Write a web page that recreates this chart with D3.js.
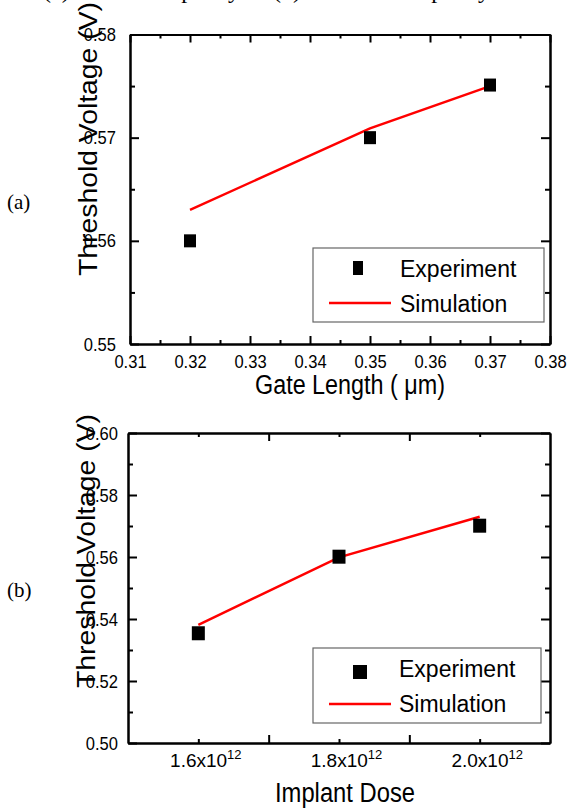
<!DOCTYPE html>
<html>
<head>
<meta charset="utf-8">
<script src="https://cdn.jsdelivr.net/npm/d3@7"></script>
<style>
  body { margin: 0; background: #fff; }
  svg { display: block; font-family: "Liberation Sans", Arial, sans-serif; }
</style>
</head>
<body>
<svg id="chart" width="567" height="808"></svg>
<script>
// Panel (a): threshold voltage vs gate length
const gateLength = [0.32, 0.35, 0.37];
const expGate = [0.560, 0.570, 0.5751];
const simGate = [0.563, 0.5709, 0.575];
const gateTicks = [0.31, 0.32, 0.33, 0.34, 0.35, 0.36, 0.37, 0.38];
const gateMinor = [0.315, 0.325, 0.335, 0.345, 0.355, 0.365, 0.375];
const vtTicksA = [0.55, 0.56, 0.57, 0.58];
const vtMinorA = [0.555, 0.565, 0.575];

// Panel (b): threshold voltage vs implant dose
const implantDose = [1.6e12, 1.8e12, 2.0e12];
const expDose = [0.5354, 0.5601, 0.5701];
const simDose = [0.5381, 0.5599, 0.5730];
const doseLabelTicks = [1.6e12, 1.8e12, 2.0e12];
const doseLongTicks = [1.7e12, 1.9e12];
const vtTicksB = [0.50, 0.52, 0.54, 0.56, 0.58, 0.60];
const vtMinorB = [0.51, 0.53, 0.55, 0.57, 0.59];

const legendNames = ['Experiment', 'Simulation'];

const svg = d3.select('#chart');

// cut-off caption line from the previous part of the page
const caption = svg.append('g')
  .attr('font-family', '"Liberation Serif", "Times New Roman", serif')
  .attr('font-size', 24);
caption.append('text').attr('x', 43).attr('y', -2).text('(a)');
caption.append('text').attr('x', 240).attr('y', -2).attr('text-anchor', 'end').text('capacity');
caption.append('text').attr('x', 273).attr('y', -2).text('(b)');
caption.append('text').attr('x', 490).attr('y', -2).attr('text-anchor', 'end').text('capacity');

// tick labels in the original are a little condensed
function squeeze (sel, k) {
  sel.each(function () {
    const w = this.getComputedTextLength();
    if (w > 0) {
      d3.select(this).attr('textLength', w * k).attr('lengthAdjust', 'spacingAndGlyphs');
    }
  });
}

function drawPanel (cfg) {
  const g = svg.append('g');
  const x = d3.scaleLinear().domain(cfg.xDomain).range([cfg.left, cfg.right]);
  const y = d3.scaleLinear().domain(cfg.yDomain).range([cfg.bottom, cfg.top]);

  const styleAxis = sel => {
    sel.attr('font-size', 19).attr('font-family', '"Liberation Sans", Arial, sans-serif');
    sel.selectAll('path, line').attr('stroke', '#000').attr('stroke-width', 2);
    sel.selectAll('text').attr('fill', '#000');
  };

  // bottom axis, labelled ticks
  const bottom = g.append('g').attr('transform', `translate(0,${cfg.bottom})`)
    .call(d3.axisBottom(x).tickValues(cfg.xLabelTicks).tickSize(-cfg.xLabelTickSize)
      .tickSizeOuter(0).tickPadding(11).tickFormat(cfg.xFormat || d3.format('.2f')))
    .call(styleAxis);
  g.append('g').attr('transform', `translate(0,${cfg.bottom})`)
    .call(d3.axisBottom(x).tickValues(cfg.xOtherTicks).tickSize(-cfg.xOtherTickSize)
      .tickSizeOuter(0).tickFormat(''))
    .call(styleAxis);

  // top axis, ticks only
  g.append('g').attr('transform', `translate(0,${cfg.top})`)
    .call(d3.axisTop(x).tickValues(cfg.xLabelTicks).tickSize(-cfg.xLabelTickSize)
      .tickSizeOuter(0).tickFormat(''))
    .call(styleAxis);
  g.append('g').attr('transform', `translate(0,${cfg.top})`)
    .call(d3.axisTop(x).tickValues(cfg.xOtherTicks).tickSize(-cfg.xOtherTickSize)
      .tickSizeOuter(0).tickFormat(''))
    .call(styleAxis);

  // left axis
  const left = g.append('g').attr('transform', `translate(${cfg.left},0)`)
    .call(d3.axisLeft(y).tickValues(cfg.yTicks).tickSize(-9).tickSizeOuter(0)
      .tickPadding(cfg.yPad).tickFormat(d3.format('.2f')))
    .call(styleAxis);
  g.append('g').attr('transform', `translate(${cfg.left},0)`)
    .call(d3.axisLeft(y).tickValues(cfg.yMinor).tickSize(-5).tickSizeOuter(0).tickFormat(''))
    .call(styleAxis);

  // right axis
  g.append('g').attr('transform', `translate(${cfg.right},0)`)
    .call(d3.axisRight(y).tickValues(cfg.yTicks).tickSize(-9).tickSizeOuter(0).tickFormat(''))
    .call(styleAxis);
  g.append('g').attr('transform', `translate(${cfg.right},0)`)
    .call(d3.axisRight(y).tickValues(cfg.yMinor).tickSize(-5).tickSizeOuter(0).tickFormat(''))
    .call(styleAxis);

  squeeze(left.selectAll('.tick text'), 0.87);

  if (cfg.sciLabels) {
    bottom.selectAll('.tick text')
      .text(null)
      .attr('dx', 7)
      .call(t => t.append('tspan').text(d => (d / 1e12).toFixed(1) + 'x10'))
      .call(t => t.append('tspan').attr('font-size', 13).attr('dy', -8).text('12'));
  } else {
    squeeze(bottom.selectAll('.tick text'), 0.87);
  }

  // simulation line
  const line = d3.line().x(d => x(d[0])).y(d => y(d[1]));
  g.append('path')
    .datum(cfg.xs.map((v, i) => [v, cfg.sim[i]]))
    .attr('d', line)
    .attr('fill', 'none')
    .attr('stroke', '#ff0000')
    .attr('stroke-width', 2.5);

  // experiment squares
  g.selectAll('rect.exp')
    .data(cfg.xs.map((v, i) => [v, cfg.exp[i]]))
    .enter().append('rect')
    .attr('class', 'exp')
    .attr('x', d => x(d[0]) - cfg.mw / 2)
    .attr('y', d => y(d[1]) - cfg.mh / 2)
    .attr('width', cfg.mw)
    .attr('height', cfg.mh)
    .attr('fill', '#000');

  // axis titles
  g.append('text')
    .attr('x', cfg.xTitleX).attr('y', cfg.xTitleY)
    .attr('text-anchor', 'middle')
    .attr('font-size', 27)
    .attr('textLength', cfg.xTitleLen)
    .attr('lengthAdjust', 'spacingAndGlyphs')
    .text(cfg.xTitle);

  g.append('text')
    .attr('transform', `translate(${cfg.yTitleX},${cfg.yTitleY}) rotate(-90)`)
    .attr('text-anchor', 'middle')
    .attr('font-size', 26)
    .attr('textLength', 274)
    .attr('lengthAdjust', 'spacingAndGlyphs')
    .text('Threshold Voltage (V)');

  // legend
  const L = cfg.legend;
  const lg = g.append('g');
  lg.append('rect')
    .attr('x', L.x0).attr('y', L.y0)
    .attr('width', L.x1 - L.x0).attr('height', L.y1 - L.y0)
    .attr('fill', '#fff').attr('stroke', '#666').attr('stroke-width', 1.2);
  lg.append('rect')
    .attr('x', L.mx - L.mw / 2).attr('y', L.my - L.mh / 2)
    .attr('width', L.mw).attr('height', L.mh).attr('fill', '#000');
  lg.append('line')
    .attr('x1', 329).attr('x2', 391).attr('y1', L.ly).attr('y2', L.ly)
    .attr('stroke', '#ff0000').attr('stroke-width', 2.5);
  lg.selectAll('text.leg')
    .data(legendNames)
    .enter().append('text')
    .attr('class', 'leg')
    .attr('x', L.tx)
    .attr('y', (d, i) => L.ty[i])
    .attr('font-size', 23)
    .text(d => d);

  // panel tag
  g.append('text')
    .attr('x', 7).attr('y', cfg.tagY)
    .attr('font-family', '"Liberation Serif", "Times New Roman", serif')
    .attr('font-size', 21)
    .text(cfg.tag);
}

drawPanel({
  xs: gateLength, exp: expGate, sim: simGate,
  xDomain: [0.31, 0.38], yDomain: [0.55, 0.58],
  left: 130, right: 550, top: 34.5, bottom: 344,
  xLabelTicks: gateTicks, xLabelTickSize: 8,
  xOtherTicks: gateMinor, xOtherTickSize: 4,
  yTicks: vtTicksA, yMinor: vtMinorA, yPad: 14,
  mw: 12, mh: 13,
  xTitle: 'Gate Length ( \u03bcm)', xTitleX: 350, xTitleY: 394, xTitleLen: 190,
  yTitleX: 97, yTitleY: 139,
  legend: { x0: 313, x1: 544, y0: 248, y1: 322, mx: 358, my: 268, mw: 10, mh: 14, ly: 303, tx: 400, ty: [277, 312] },
  tag: '(a)', tagY: 209
});

drawPanel({
  xs: implantDose, exp: expDose, sim: simDose,
  xDomain: [1.5e12, 2.1e12], yDomain: [0.50, 0.60],
  left: 128, right: 550, top: 433, bottom: 743,
  xLabelTicks: doseLabelTicks, xLabelTickSize: 4,
  xOtherTicks: doseLongTicks, xOtherTickSize: 8,
  sciLabels: true,
  yTicks: vtTicksB, yMinor: vtMinorB, yPad: 10,
  mw: 13, mh: 14,
  xTitle: 'Implant Dose', xTitleX: 345, xTitleY: 802, xTitleLen: 140,
  yTitleX: 95, yTitleY: 551,
  legend: { x0: 313, x1: 541, y0: 648, y1: 723, mx: 360, my: 672, mw: 14, mh: 14, ly: 704, tx: 399, ty: [677, 712] },
  tag: '(b)', tagY: 597
});
</script>
</body>
</html>
